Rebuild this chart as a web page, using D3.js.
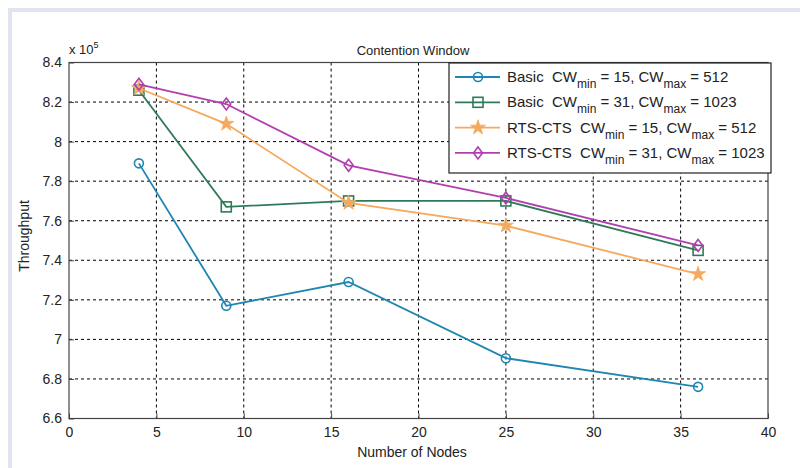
<!DOCTYPE html>
<html><head><meta charset="utf-8">
<script src="https://cdn.jsdelivr.net/npm/d3@7"></script>
<style>
html,body{margin:0;padding:0;background:#fff;}
text{font-family:"Liberation Sans Narrow","Arial Narrow","Liberation Sans",Arial,sans-serif;fill:#222;white-space:pre;}
</style></head><body>
<svg id="c" width="800" height="468"></svg>
<script>
const nodes = [4, 9, 16, 25, 36];
const basic15 = [7.89, 7.17, 7.29, 6.905, 6.76];
const basic31 = [8.26, 7.67, 7.70, 7.70, 7.45];
const rts15 = [8.27, 8.09, 7.69, 7.575, 7.33];
const rts31 = [8.29, 8.19, 7.88, 7.715, 7.475];
const xTicks = [0, 5, 10, 15, 20, 25, 30, 35, 40];
const yTicks = [6.6, 6.8, 7, 7.2, 7.4, 7.6, 7.8, 8, 8.2, 8.4];
const seriesNames = [
  ["Basic  CW", "min", " = 15, CW", "max", " = 512"],
  ["Basic  CW", "min", " = 31, CW", "max", " = 1023"],
  ["RTS-CTS  CW", "min", " = 15, CW", "max", " = 512"],
  ["RTS-CTS  CW", "min", " = 31, CW", "max", " = 1023"]
];
const seriesColors = ["#1e86b0", "#2f7a58", "#f5a95e", "#b23fb0"];
const seriesMarkers = ["circle", "square", "star", "diamond"];
const seriesData = [basic15, basic31, rts15, rts31];

const svg = d3.select("#c");
// outer frame
svg.append("rect").attr("x", 10).attr("y", 10).attr("width", 800).attr("height", 470)
  .attr("fill", "none").attr("stroke", "#dfe4ee").attr("stroke-width", 4);

const L = 69, R = 768, T = 62.5, B = 418.5;
const x = d3.scaleLinear().domain([0, 40]).range([L, R]);
const y = d3.scaleLinear().domain([6.6, 8.4]).range([B, T]);

const g = svg.append("g");
// grid
g.selectAll(".gx").data(xTicks.slice(1, -1)).enter().append("line")
  .attr("x1", d => x(d)).attr("x2", d => x(d)).attr("y1", T).attr("y2", B)
  .attr("stroke", "#000").attr("stroke-width", 1).attr("stroke-dasharray", "3,3");
g.selectAll(".gy").data(yTicks.slice(1, -1)).enter().append("line")
  .attr("y1", d => y(d)).attr("y2", d => y(d)).attr("x1", L).attr("x2", R)
  .attr("stroke", "#000").attr("stroke-width", 1).attr("stroke-dasharray", "3,3");

// axes
const xAxis = d3.axisBottom(x).tickValues(xTicks).tickSizeInner(-5).tickSizeOuter(0).tickPadding(9).tickFormat(d3.format("d"));
const yAxis = d3.axisLeft(y).tickValues(yTicks).tickSizeInner(-5).tickSizeOuter(0).tickPadding(7).tickFormat(d => d3.format("")(+d.toFixed(1)));
const gx = svg.append("g").attr("transform", `translate(0,${B})`).call(xAxis);
const gy = svg.append("g").attr("transform", `translate(${L},0)`).call(yAxis);
[gx, gy].forEach(a => {
  a.select(".domain").remove();
  a.selectAll("line").attr("stroke", "#444");
  a.selectAll("text").style("font-size", "14px").attr("fill", "#333");
});
// box
svg.append("rect").attr("x", L).attr("y", T).attr("width", R - L).attr("height", B - T)
  .attr("fill", "none").attr("stroke", "#444").attr("stroke-width", 1.2);

// labels
svg.append("text").attr("x", 413).attr("y", 55).attr("text-anchor", "middle").style("font-size", "13px").text("Contention Window");
svg.append("text").attr("x", 412).attr("y", 457).attr("text-anchor", "middle").style("font-size", "14px").text("Number of Nodes");
svg.append("text").attr("transform", "translate(29,236) rotate(-90)").attr("text-anchor", "middle").style("font-size", "14px").text("Throughput");
const ex = svg.append("text").attr("x", 69).attr("y", 54).style("font-size", "13px");
ex.append("tspan").text("x 10");
ex.append("tspan").attr("dy", -6).style("font-size", "9px").text("5");

function marker(sel, type, color) {
  if (type === "circle") sel.append("circle").attr("r", 4.5).attr("fill", "none").attr("stroke", color).attr("stroke-width", 1.6);
  else if (type === "square") sel.append("rect").attr("x", -5).attr("y", -5).attr("width", 10).attr("height", 10).attr("fill", "none").attr("stroke", color).attr("stroke-width", 1.6);
  else if (type === "star") sel.append("path").attr("d", d3.symbol().type(d3.symbolStar).size(70)()).attr("fill", color).attr("stroke", color).attr("stroke-width", 0.8);
  else if (type === "diamond") sel.append("path").attr("d", "M0,-6L4.5,0L0,6L-4.5,0Z").attr("fill", "none").attr("stroke", color).attr("stroke-width", 1.6);
}

const line = d3.line().x((d, i) => x(nodes[i])).y(d => y(d));
seriesData.forEach((data, k) => {
  svg.append("path").datum(data).attr("d", line).attr("fill", "none")
    .attr("stroke", seriesColors[k]).attr("stroke-width", 1.8);
  data.forEach((v, i) => {
    const m = svg.append("g").attr("transform", `translate(${x(nodes[i])},${y(v)})`);
    marker(m, seriesMarkers[k], seriesColors[k]);
  });
});

// legend
const lg = svg.append("g");
lg.append("rect").attr("x", 449).attr("y", 63).attr("width", 322).attr("height", 110)
  .attr("fill", "#fff").attr("stroke", "#222").attr("stroke-width", 1.2);
seriesNames.forEach((parts, k) => {
  const yy = 77 + k * 25.3;
  lg.append("line").attr("x1", 455).attr("x2", 500).attr("y1", yy).attr("y2", yy)
    .attr("stroke", seriesColors[k]).attr("stroke-width", 1.8);
  const m = lg.append("g").attr("transform", `translate(478,${yy})`);
  marker(m, seriesMarkers[k], seriesColors[k]);
  const t = lg.append("text").attr("x", 507).attr("y", yy + 5).attr("xml:space", "preserve").style("font-size", "15px");
  parts.forEach((p, j) => {
    const sub = j === 1 || j === 3;
    const ts = t.append("tspan").text(p);
    if (sub) ts.attr("dy", 6).style("font-size", "12px");
    else if (j > 0) ts.attr("dy", -6);
  });
});
</script>
</body></html>
